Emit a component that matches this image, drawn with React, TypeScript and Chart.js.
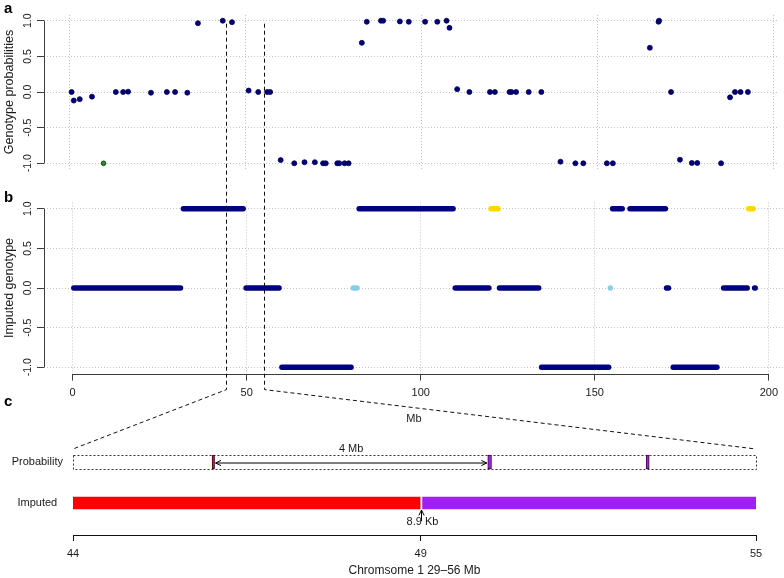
import React, { useEffect, useRef } from 'react';
import { Chart, registerables } from 'chart.js';

Chart.register(...registerables);

const W = 784;
const H = 578;
const FONT = "'Liberation Sans', Arial, Helvetica, sans-serif";
const GRID = '#c4c4c4';
const AXIS = '#3c3c3c';
const TEXT = '#1a1a1a';
const NAVY = '#000080';

// ---------- panel a : genotype probabilities ----------
const mbTicks = [0, 50, 100, 150, 200];
const genoTicks = [-1, -0.5, 0, 0.5, 1];

const probPos = [
  0.5, 1.13, 2.82, 6.3, 13.08, 15.17, 16.58, 23.08,
  27.6, 29.94, 33.42, 36.44, 43.5, 46.13, 50.85, 53.59,
  56.13, 56.98, 59.97, 63.84, 66.75, 69.69, 72.03, 72.8,
  76.07, 76.64, 78.16, 79.29, 83.05, 84.46, 88.5, 89.12,
  93.87, 96.41, 101.05, 104.52, 107.15, 107.99, 110.17, 113.64,
  119.49, 120.9, 125.06, 125.62, 126.92, 130.51, 134.1, 139.55,
  143.79, 146.05, 152.74, 154.44, 164.97, 167.43, 167.6, 170.99,
  173.53, 176.92, 178.45, 185.23, 187.77, 189.18, 190.76, 192.85,
];
const probVal = [
  0, -0.12, -0.1, -0.065, 0, 0, 0.005, -0.01,
  0, 0, -0.01, 0.965, 1, 0.98, 0.02, 0,
  0, 0, -0.955, -1, -0.985, -0.985, -1, -1,
  -1, -1, -1, -1, 0.69, 0.985, 1, 1,
  0.99, 0.985, 0.985, 0.985, 1, 0.9, 0.04, 0,
  0, 0, 0, 0, 0, 0, 0, -0.977,
  -1, -1, -1, -1, 0.62, 0.985, 1, 0,
  -0.95, -0.995, -0.995, -1, -0.075, 0, 0, 0,
];
const flaggedPos = [9.6];
const flaggedVal = [-1];

// ---------- panel b : imputed genotype runs ----------
const navyStarts = [0.3, 31.8, 49.8, 60.1, 82.3, 109.9, 122.6, 134.7, 155.1, 160.1, 170.6, 172.5, 187.0, 195.9];
const navyEnds = [31.0, 49.0, 59.3, 80.0, 109.3, 119.6, 133.9, 154.0, 157.9, 170.3, 171.2, 185.1, 193.8, 196.1];
const navyLevels = [0, 1, 0, -1, 1, 0, 0, -1, 1, 1, 0, -1, 0, 0];

const skyStarts = [80.6, 154.45];
const skyEnds = [81.7, 154.55];
const skyLevels = [0, 0];

const goldStarts = [120.2, 194.2];
const goldEnds = [122.2, 195.5];
const goldLevels = [1, 1];

// ---------- panel c : zoomed region ----------
const zoomStart = 44;
const zoomEnd = 55;
const zoomTicks = [44, 49.6, 55];
const rowLabels = ['Imputed', 'Probability'];
const markerStarts = [46.24, 50.68, 53.23];
const markerEnds = [46.28, 50.74, 53.28];
const markerColors = ['#FF0000', '#A020F0', '#A020F0'];
const imputedStarts = [44, 49.63];
const imputedEnds = [49.59, 55];
const imputedColors = ['#FF0000', '#A020F0'];
const breakpoint = 49.6;
const gapLabel = '4 Mb';
const breakLabel = '8.9 Kb';
const xTitleC = 'Chromsome 1 29\u201356 Mb';

function runsData(starts: number[], ends: number[], levels: number[]) {
  const out: any[] = [];
  starts.forEach((s, i) => {
    out.push({ x: s, y: levels[i] }, { x: ends[i], y: levels[i] }, { x: ends[i], y: null });
  });
  return out;
}

function genoAxis(title: string) {
  return {
    type: 'linear',
    min: -1.08,
    max: 1.08,
    afterBuildTicks: (s: any) => { s.ticks = genoTicks.map((v) => ({ value: v })); },
    afterFit: (s: any) => { s.width = 44; },
    ticks: {
      minRotation: 90, maxRotation: 90, crossAlign: 'center', padding: 0, autoSkip: false,
      color: TEXT, font: { family: FONT, size: 10.5 },
      callback: (v: any) => Number(v).toFixed(1),
    },
    grid: { color: GRID, lineWidth: 1, tickColor: AXIS, tickLength: 7, tickWidth: 1 },
    border: { display: false, dash: [1, 2] },
    title: { display: true, text: title, color: TEXT, font: { family: FONT, size: 12.5 }, padding: { top: 2, bottom: 0 } },
  };
}

function panelPlugin(letter: string, letterDy: number, drawXAxis: boolean) {
  return {
    id: 'panel' + letter,
    afterDraw(chart: any) {
      const { ctx, chartArea } = chart;
      const xs = chart.scales.x;
      const ys = chart.scales.y;
      ctx.save();
      ctx.strokeStyle = AXIS;
      ctx.lineWidth = 1;
      ctx.setLineDash([]);
      ctx.beginPath();
      const lx = Math.round(chartArea.left) + 0.5;
      ctx.moveTo(lx, ys.getPixelForValue(genoTicks[0]));
      ctx.lineTo(lx, ys.getPixelForValue(genoTicks[genoTicks.length - 1]));
      if (drawXAxis) {
        const by = Math.round(chartArea.bottom) + 0.5;
        ctx.moveTo(xs.getPixelForValue(mbTicks[0]), by);
        ctx.lineTo(xs.getPixelForValue(mbTicks[mbTicks.length - 1]), by);
      }
      ctx.stroke();
      ctx.fillStyle = '#000';
      ctx.font = `bold 15px ${FONT}`;
      ctx.textAlign = 'left';
      ctx.textBaseline = 'middle';
      ctx.fillText(letter, 4, chartArea.top + letterDy);
      ctx.restore();
    },
  };
}

function arrowHead(ctx: CanvasRenderingContext2D, x: number, y: number, angle: number) {
  const len = 6;
  const spread = Math.PI / 7;
  ctx.moveTo(x - len * Math.cos(angle - spread), y - len * Math.sin(angle - spread));
  ctx.lineTo(x, y);
  ctx.lineTo(x - len * Math.cos(angle + spread), y - len * Math.sin(angle + spread));
}

export default function App() {
  const refA = useRef<HTMLCanvasElement>(null);
  const refB = useRef<HTMLCanvasElement>(null);
  const refC = useRef<HTMLCanvasElement>(null);

  useEffect(() => {
    const common = { responsive: false, animation: false as const, events: [] as any[] };

    const chartA = new Chart(refA.current as HTMLCanvasElement, {
      type: 'scatter',
      data: {
        datasets: [
          {
            data: probPos.map((x, i) => ({ x, y: probVal[i] })),
            backgroundColor: NAVY, borderColor: '#00004a', borderWidth: 0.8, pointRadius: 2.5,
          },
          {
            data: flaggedPos.map((x, i) => ({ x, y: flaggedVal[i] })),
            backgroundColor: '#2e8b2e', borderColor: '#0b4f0b', borderWidth: 1, pointRadius: 2.3,
          },
        ],
      },
      options: {
        ...common,
        layout: { padding: { left: 0, right: 0, top: 15, bottom: H - 169 } },
        plugins: { legend: { display: false }, tooltip: { enabled: false } },
        scales: {
          x: {
            type: 'linear', min: -7.34, max: 201.7,
            afterBuildTicks: (s: any) => { s.ticks = mbTicks.map((v) => ({ value: v })); },
            afterFit: (s: any) => { s.height = 0; },
            ticks: { display: false },
            grid: { color: GRID, drawTicks: false },
            border: { display: false, dash: [1, 2] },
          },
          y: genoAxis('Genotype probabilities') as any,
        },
      } as any,
      plugins: [panelPlugin('a', -6, false)],
    });

    const lineBase = { pointRadius: 0, spanGaps: false, fill: false, tension: 0 };
    const chartB = new Chart(refB.current as HTMLCanvasElement, {
      type: 'line',
      data: {
        datasets: [
          { ...lineBase, data: runsData(navyStarts, navyEnds, navyLevels), borderColor: NAVY, borderWidth: 5.4, borderCapStyle: 'round' },
          { ...lineBase, data: runsData(navyStarts, navyEnds, navyLevels), borderColor: '#8c8ce6', borderWidth: 1.5, borderDash: [1.4, 1.6], borderCapStyle: 'butt' },
          { ...lineBase, data: runsData(skyStarts, skyEnds, skyLevels), borderColor: '#87CEEB', borderWidth: 5.4, borderCapStyle: 'round' },
          { ...lineBase, data: runsData(goldStarts, goldEnds, goldLevels), borderColor: '#FFD700', borderWidth: 5.4, borderCapStyle: 'round' },
        ] as any,
      },
      options: {
        ...common,
        layout: { padding: { left: 0, right: 0, top: 202.4, bottom: H - 373.6 - 52 } },
        plugins: { legend: { display: false }, tooltip: { enabled: false } },
        scales: {
          x: {
            type: 'linear', min: -8.24, max: 204.31,
            afterBuildTicks: (s: any) => { s.ticks = mbTicks.map((v) => ({ value: v })); },
            afterFit: (s: any) => { s.height = 52; },
            ticks: { color: TEXT, font: { family: FONT, size: 11 }, padding: 6, maxRotation: 0, autoSkip: false },
            grid: { color: GRID, tickColor: AXIS, tickLength: 7, tickWidth: 1 },
            border: { display: false, dash: [1, 2] },
            title: { display: true, text: 'Mb', color: TEXT, font: { family: FONT, size: 11 }, padding: 0 },
          },
          y: genoAxis('Imputed genotype') as any,
        },
      } as any,
      plugins: [panelPlugin('b', -5, true)],
    });

    const chartC = new Chart(refC.current as HTMLCanvasElement, {
      type: 'bar',
      data: {
        datasets: [
          {
            data: imputedStarts.map((s, i) => ({ x: [s, imputedEnds[i]], y: 0 })),
            backgroundColor: imputedColors, borderWidth: 0, barThickness: 12, grouped: false,
          },
          {
            data: markerStarts.map((s, i) => ({ x: [s, markerEnds[i]], y: 1 })),
            backgroundColor: markerColors, borderColor: '#3a0a2a', borderWidth: 1, borderSkipped: false,
            barThickness: 14, grouped: false,
          },
        ] as any,
      },
      options: {
        ...common,
        indexAxis: 'y',
        layout: { padding: { left: 0, right: W - 756, top: 440, bottom: 0 } },
        plugins: { legend: { display: false }, tooltip: { enabled: false } },
        scales: {
          x: {
            type: 'linear', min: zoomStart, max: zoomEnd,
            afterBuildTicks: (s: any) => { s.ticks = zoomTicks.map((v) => ({ value: v })); },
            afterFit: (s: any) => { s.height = 43; },
            ticks: { color: TEXT, font: { family: FONT, size: 11 }, padding: 6, maxRotation: 0, autoSkip: false,
              callback: (v: any) => String(Math.floor(Number(v))) },
            grid: { drawOnChartArea: false, color: '#111', tickColor: '#111', tickLength: 6, tickWidth: 1 },
            border: { display: true, color: '#111', width: 1 },
            title: { display: true, text: xTitleC, color: TEXT, font: { family: FONT, size: 12 }, padding: 0 },
          },
          y: {
            type: 'linear', min: -0.7805, max: 1.5366, offset: false,
            afterBuildTicks: (s: any) => { s.ticks = [0, 1].map((v) => ({ value: v })); },
            afterFit: (s: any) => { s.width = 73; },
            ticks: { color: TEXT, font: { family: FONT, size: 11 }, crossAlign: 'center', padding: 10, autoSkip: false,
              callback: (v: any) => rowLabels[Number(v)] },
            grid: { display: false, drawTicks: false },
            border: { display: false },
          },
        },
      } as any,
      plugins: [
        {
          id: 'panelC',
          beforeDatasetsDraw(chart: any) {
            const { ctx } = chart;
            const xs = chart.scales.x;
            const ys = chart.scales.y;
            const x0 = xs.getPixelForValue(zoomStart);
            const x1 = xs.getPixelForValue(zoomEnd);
            const yc = ys.getPixelForValue(1);
            ctx.save();
            ctx.setLineDash([2, 2]);
            ctx.strokeStyle = '#333';
            ctx.lineWidth = 1;
            ctx.strokeRect(Math.round(x0) + 0.5, Math.round(yc - 7) + 0.5, Math.round(x1 - x0), 14);
            ctx.restore();
          },
          afterDraw(chart: any) {
            const { ctx } = chart;
            const xs = chart.scales.x;
            const ys = chart.scales.y;
            const yProb = ys.getPixelForValue(1);
            const yImp = ys.getPixelForValue(0);
            ctx.save();
            // connecting dashed lines
            const xb = chartB.scales.x;
            const topY = chartA.scales.y.getPixelForValue(1) + 3;
            const bendY = chartB.chartArea.bottom + 16;
            const boxTop = yProb - 7 - 6;
            ctx.strokeStyle = '#111';
            ctx.lineWidth = 1;
            ctx.setLineDash([4, 3]);
            [zoomStart, zoomEnd].forEach((v) => {
              const px = Math.round(xb.getPixelForValue(v)) + 0.5;
              ctx.beginPath();
              ctx.moveTo(px, topY);
              ctx.lineTo(px, bendY);
              ctx.lineTo(xs.getPixelForValue(v), boxTop);
              ctx.stroke();
            });
            ctx.setLineDash([]);
            // 4 Mb double arrow
            const ax0 = xs.getPixelForValue(markerEnds[0]) + 1;
            const ax1 = xs.getPixelForValue(markerStarts[1]) - 1;
            const ay = yProb + 1;
            ctx.strokeStyle = '#000';
            ctx.beginPath();
            ctx.moveTo(ax0, ay);
            ctx.lineTo(ax1, ay);
            arrowHead(ctx, ax0, ay, Math.PI);
            arrowHead(ctx, ax1, ay, 0);
            ctx.stroke();
            ctx.fillStyle = TEXT;
            ctx.font = `11px ${FONT}`;
            ctx.textAlign = 'center';
            ctx.textBaseline = 'middle';
            ctx.fillText(gapLabel, (ax0 + ax1) / 2, yProb - 13);
            // breakpoint arrow
            const bx = Math.round(xs.getPixelForValue(breakpoint)) + 0.5;
            ctx.fillText(breakLabel, bx + 1, yImp + 19);
            ctx.beginPath();
            ctx.moveTo(bx, yImp + 18);
            ctx.lineTo(bx, yImp + 7);
            arrowHead(ctx, bx, yImp + 7, -Math.PI / 2);
            ctx.stroke();
            // panel letter
            ctx.fillStyle = '#000';
            ctx.font = `bold 15px ${FONT}`;
            ctx.textAlign = 'left';
            ctx.fillText('c', 4, yProb - 60);
            ctx.restore();
          },
        },
      ],
    });

    return () => {
      chartC.destroy();
      chartB.destroy();
      chartA.destroy();
    };
  }, []);

  const cs: React.CSSProperties = { position: 'absolute', left: 0, top: 0, width: W, height: H };
  return (
    <div style={{ position: 'absolute', left: 0, top: 0, width: W, height: H, background: '#fff' }}>
      <canvas ref={refA} width={W} height={H} style={cs} />
      <canvas ref={refB} width={W} height={H} style={cs} />
      <canvas ref={refC} width={W} height={H} style={cs} />
    </div>
  );
}
